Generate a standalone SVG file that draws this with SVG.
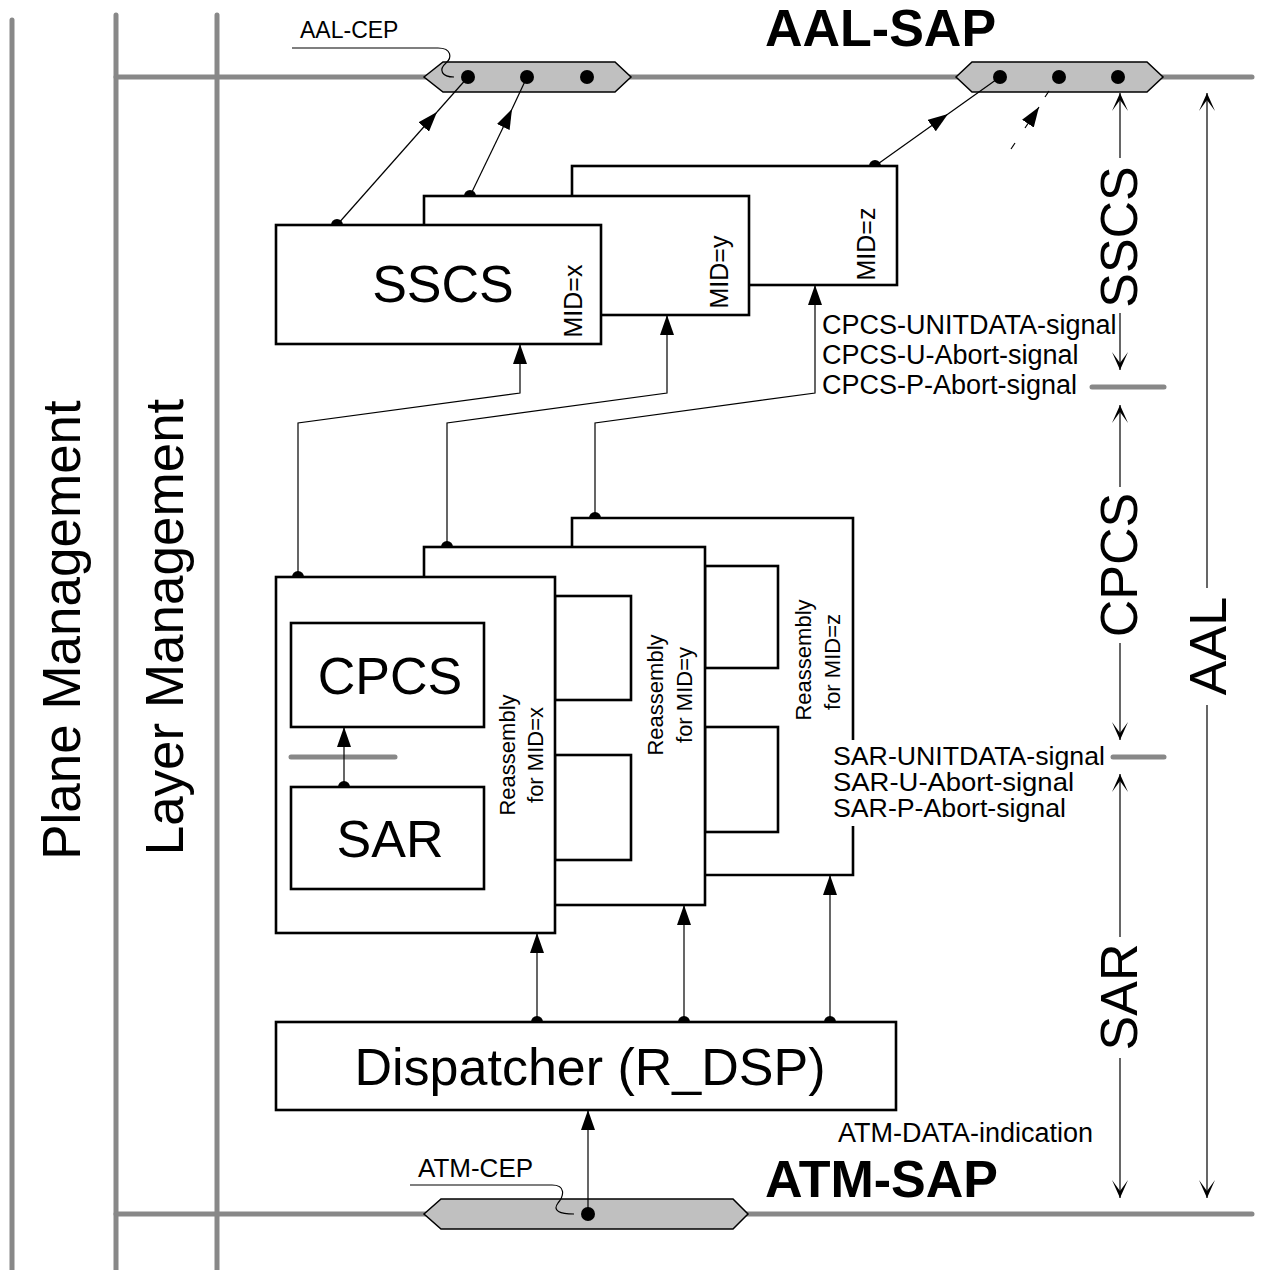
<svg xmlns="http://www.w3.org/2000/svg" width="1262" height="1270" viewBox="0 0 1262 1270">
<style>
text{font-family:"Liberation Sans",Arial,sans-serif;fill:#000}
.g{stroke:#888;stroke-width:5;stroke-linecap:round;fill:none}
.box{fill:#fff;stroke:#000;stroke-width:2.6}
.ln{fill:none;stroke:#000;stroke-width:1.2}
.hex{fill:#c0c0c0;stroke:#000;stroke-width:1.5}
.big{font-size:52px}
.lab{font-size:27px}
.sar{font-size:25px}
.rot{font-size:22px}
.mid{font-size:25px}
</style>
<defs>
<marker id="af" viewBox="0 0 20 14" refX="20" refY="7" markerWidth="20" markerHeight="14" markerUnits="userSpaceOnUse" orient="auto"><path d="M0,0 L20,7 L0,14 z" fill="#000"/></marker>
<marker id="ao" viewBox="0 0 18 18" refX="18" refY="9" markerWidth="18" markerHeight="18" markerUnits="userSpaceOnUse" orient="auto"><path d="M0,1 L18,9 L0,17 L11,9 z" fill="#000"/></marker>
</defs>

<g id="background">
<line class="g" x1="12" y1="20" x2="12" y2="1272"/>
<line class="g" x1="116" y1="15" x2="116" y2="1272"/>
<line class="g" x1="217" y1="15" x2="217" y2="1272"/>
<line class="g" x1="116" y1="77" x2="1252" y2="77"/>
<line class="g" x1="116" y1="1214" x2="1252" y2="1214"/>
<line class="g" x1="1092" y1="387" x2="1164" y2="387"/>
<line class="g" x1="1113" y1="757" x2="1164" y2="757"/>
<text font-size="53" transform="translate(80,630) rotate(-90)" text-anchor="middle">Plane Management</text>
<text font-size="53" transform="translate(183,627) rotate(-90)" text-anchor="middle">Layer Management</text>
<text class="big" transform="translate(1137,237) rotate(-90)" text-anchor="middle">SSCS</text>
<text class="big" transform="translate(1137,565) rotate(-90)" text-anchor="middle">CPCS</text>
<text class="big" transform="translate(1137,997) rotate(-90)" text-anchor="middle">SAR</text>
<text class="big" transform="translate(1226,646) rotate(-90)" text-anchor="middle">AAL</text>
<text x="765" y="46" font-size="52" font-weight="bold">AAL-SAP</text>
<text x="765" y="1197" font-size="52" font-weight="bold">ATM-SAP</text>
<text x="300" y="38" font-size="23">AAL-CEP</text>
<text x="418" y="1177" font-size="26">ATM-CEP</text>
</g>

<g id="aal-sap-left"><polygon class="hex" points="424,77 443,62 615,62 631,77 615,92 443,92"/></g>
<g id="aal-sap-right"><polygon class="hex" points="956,77 972,62 1147,62 1163,77 1147,92 972,92"/></g>
<g id="atm-sap"><polygon class="hex" points="424,1214 441,1199 733,1199 748,1214 733,1229 441,1229"/></g>

<g id="sscs-z">
<rect class="box" x="572" y="166" width="325" height="119"/>
<text class="mid" transform="translate(875,244) rotate(-90)" text-anchor="middle">MID=z</text>
</g>
<g id="sscs-y">
<rect class="box" x="424" y="196" width="325" height="119"/>
<text class="mid" transform="translate(728,272) rotate(-90)" text-anchor="middle">MID=y</text>
</g>
<g id="sscs-x">
<rect class="box" x="276" y="225" width="325" height="119"/>
<text class="big" x="443" y="302" text-anchor="middle">SSCS</text>
<text class="mid" transform="translate(582,301) rotate(-90)" text-anchor="middle">MID=x</text>
</g>

<g id="reassembly-z">
<rect x="572" y="518" width="281" height="357" fill="#fff"/>
<path d="M853,740 V518 H572 V875 H853 V826" fill="none" stroke="#000" stroke-width="2.6"/>
<text class="rot" transform="translate(811,660) rotate(-90)" text-anchor="middle">Reassembly</text>
<text class="rot" transform="translate(840,662) rotate(-90)" text-anchor="middle">for MID=z</text>
</g>
<g id="reassembly-y">
<rect class="box" x="705" y="566" width="73" height="102"/>
<rect class="box" x="705" y="727" width="73" height="105"/>
<rect class="box" x="424" y="547" width="281" height="358"/>
<text class="rot" transform="translate(663,695) rotate(-90)" text-anchor="middle">Reassembly</text>
<text class="rot" transform="translate(692,695) rotate(-90)" text-anchor="middle">for MID=y</text>
</g>
<g id="reassembly-x">
<rect class="box" x="555" y="596" width="76" height="104"/>
<rect class="box" x="555" y="755" width="76" height="105"/>
<rect class="box" x="276" y="577" width="279" height="356"/>
<text class="rot" transform="translate(515,755) rotate(-90)" text-anchor="middle">Reassembly</text>
<text class="rot" transform="translate(543,755) rotate(-90)" text-anchor="middle">for MID=x</text>
<line class="g" x1="291" y1="757" x2="395" y2="757"/>
</g>
<g id="cpcs">
<rect class="box" x="291" y="623" width="193" height="104"/>
<text class="big" x="390" y="694" text-anchor="middle">CPCS</text>
</g>
<g id="sar">
<rect class="box" x="291" y="787" width="193" height="102"/>
<text class="big" x="390" y="857" text-anchor="middle">SAR</text>
</g>
<g id="dispatcher">
<rect class="box" x="276" y="1022" width="620" height="88"/>
<text class="big" x="590" y="1085" text-anchor="middle">Dispatcher (R_DSP)</text>
</g>

<g id="signal-labels">
<text class="lab" x="822" y="334">CPCS-UNITDATA-signal</text>
<text class="lab" x="822" y="364">CPCS-U-Abort-signal</text>
<text class="lab" x="822" y="394">CPCS-P-Abort-signal</text>
<text class="sar" x="833" y="765" textLength="272" lengthAdjust="spacingAndGlyphs">SAR-UNITDATA-signal</text>
<text class="sar" x="833" y="791" textLength="241" lengthAdjust="spacingAndGlyphs">SAR-U-Abort-signal</text>
<text class="sar" x="833" y="817" textLength="233" lengthAdjust="spacingAndGlyphs">SAR-P-Abort-signal</text>
<text class="lab" x="838" y="1142">ATM-DATA-indication</text>
</g>

<g id="connectors">
<path class="ln" d="M337,225 L437,112" marker-end="url(#af)"/>
<line class="ln" x1="437" y1="112" x2="468" y2="77"/>
<path class="ln" d="M470,196 L512,109" marker-end="url(#af)"/>
<line class="ln" x1="512" y1="109" x2="527" y2="77"/>
<path class="ln" d="M875,166 L948,114" marker-end="url(#af)"/>
<line class="ln" x1="948" y1="114" x2="1000" y2="77"/>
<line class="ln" x1="1011" y1="149" x2="1015" y2="143"/>
<path class="ln" d="M1025,128 L1039,107" marker-end="url(#af)"/>
<line class="ln" x1="1045" y1="97" x2="1049" y2="91"/>
<path class="ln" d="M298,577 V423 L520,393 V344" marker-end="url(#af)"/>
<path class="ln" d="M447,547 V423 L667,393 V315" marker-end="url(#af)"/>
<path class="ln" d="M595,518 V423 L815,393 V285" marker-end="url(#af)"/>
<path class="ln" d="M537,1022 V933" marker-end="url(#af)"/>
<path class="ln" d="M684,1022 V905" marker-end="url(#af)"/>
<path class="ln" d="M830,1022 V875" marker-end="url(#af)"/>
<path class="ln" d="M588,1214 V1110" marker-end="url(#af)"/>
<path class="ln" d="M344,787 V727" marker-end="url(#af)"/>
<path class="ln" d="M292,48 H438 C452,48 452,58 446,63 C438,70 442,77 454,77"/>
<path class="ln" d="M410,1185 H552 C566,1185 564,1196 558,1203 C552,1211 560,1214 574,1214"/>
<path class="ln" d="M1120,158 V93" marker-end="url(#ao)"/>
<path class="ln" d="M1120,313 V370" marker-end="url(#ao)"/>
<path class="ln" d="M1120,487 V405" marker-end="url(#ao)"/>
<path class="ln" d="M1120,643 V740" marker-end="url(#ao)"/>
<path class="ln" d="M1120,937 V774" marker-end="url(#ao)"/>
<path class="ln" d="M1120,1058 V1198" marker-end="url(#ao)"/>
<path class="ln" d="M1207,588 V93" marker-end="url(#ao)"/>
<path class="ln" d="M1207,705 V1198" marker-end="url(#ao)"/>
<g fill="#000">
<circle cx="468" cy="77" r="7"/>
<circle cx="527" cy="77" r="7"/>
<circle cx="587" cy="77" r="7"/>
<circle cx="1000" cy="77" r="7"/>
<circle cx="1059" cy="77" r="7"/>
<circle cx="1118" cy="77" r="7"/>
<circle cx="588" cy="1214" r="7"/>
<path d="M331,225 A6,6 0 0 1 343,225 Z"/>
<path d="M464,196 A6,6 0 0 1 476,196 Z"/>
<path d="M869,166 A6,6 0 0 1 881,166 Z"/>
<path d="M292,577 A6,6 0 0 1 304,577 Z"/>
<path d="M441,547 A6,6 0 0 1 453,547 Z"/>
<path d="M589,518 A6,6 0 0 1 601,518 Z"/>
<path d="M531,1022 A6,6 0 0 1 543,1022 Z"/>
<path d="M678,1022 A6,6 0 0 1 690,1022 Z"/>
<path d="M824,1022 A6,6 0 0 1 836,1022 Z"/>
<path d="M338,787 A6,6 0 0 1 350,787 Z"/>
</g>
</g>
</svg>
